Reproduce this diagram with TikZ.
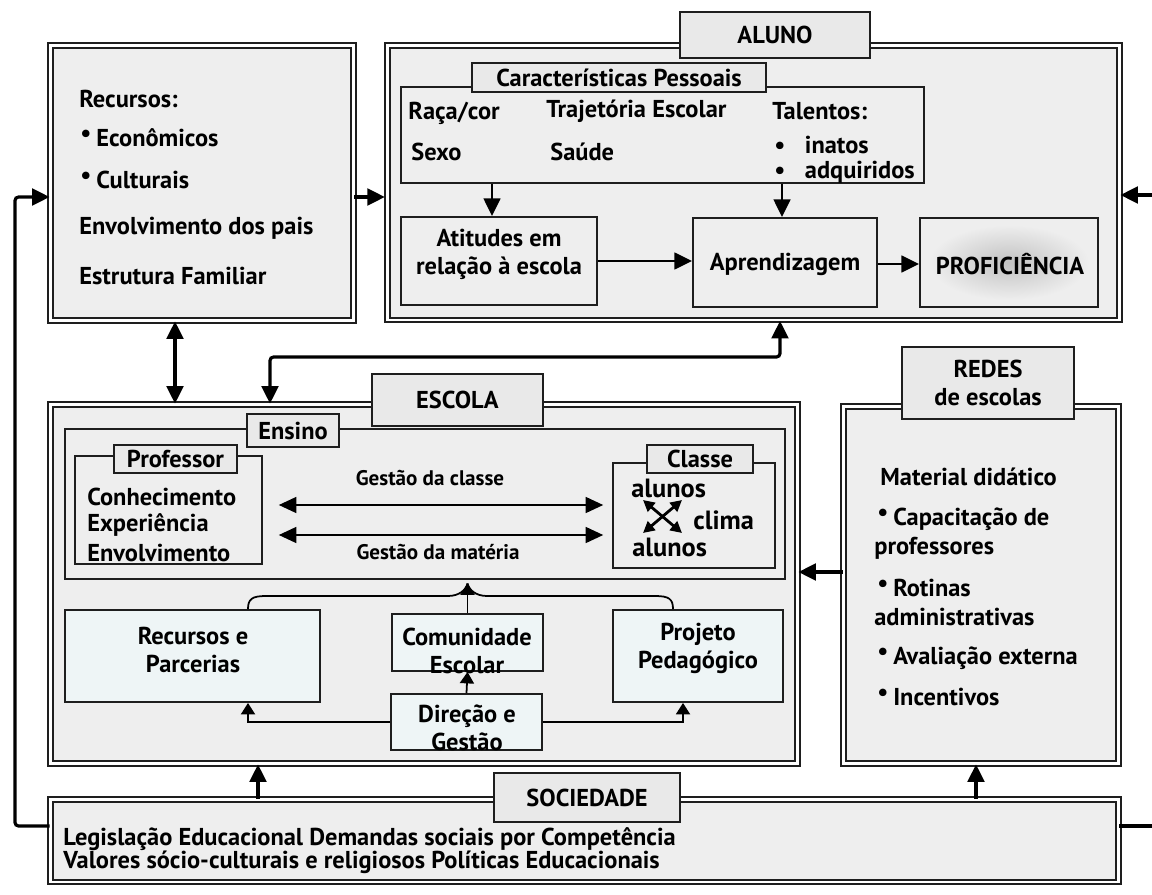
\documentclass[tikz,border=0pt]{standalone}
\usepackage{fontspec}
\setmainfont{PT Sans}
\usepackage{tikz}
\usetikzlibrary{arrows.meta,positioning,fit}
\usepackage{xcolor}
\definecolor{boxgray}{HTML}{EEEEEE}
\definecolor{tabgray}{HTML}{E9E9E9}
\definecolor{paleblue}{HTML}{EEF5F6}
\definecolor{inkline}{HTML}{1E1E1E}
\newcommand{\itembul}{\raisebox{0.4ex}{\textbullet}\hspace{0.2em}}
\newcommand{\bigfont}{\bfseries\fontsize{13.9}{16}\selectfont}

\begin{document}
\begin{tikzpicture}[x=0.02cm,y=-0.02cm,
  box/.style={draw=inkline, line width=1pt, double=white, double distance=1.6pt, fill=boxgray, inner sep=0pt},
  frame/.style={draw=inkline, line width=1.1pt, fill=boxgray, inner sep=0pt},
  bluebox/.style={frame, fill=paleblue},
  tab/.style={draw=inkline, line width=1.1pt, fill=tabgray, inner sep=0pt, align=center, font=\bigfont},
  txt/.style={anchor=west, inner sep=0pt, font=\bigfont},
  ctxt/.style={inner sep=0pt, align=center, font=\bigfont},
  small/.style={inner sep=0pt, font=\bfseries\fontsize{12}{14}\selectfont},
  arr/.style={line width=1.8pt, -{Triangle[length=10pt,width=9.5pt]}},
  darr/.style={line width=1.8pt, {Triangle[length=10pt,width=9.5pt]}-{Triangle[length=10pt,width=9.5pt]}},
  inarr/.style={line width=1.2pt, -{Triangle[length=10pt,width=9.5pt]}},
  gestarr/.style={line width=1.2pt, {Triangle[length=10pt,width=9pt]}-{Triangle[length=10pt,width=9pt]}},
  tinyarr/.style={line width=1pt, -{Triangle[length=6.5pt,width=8pt]}},
  crossarr/.style={line width=1.6pt, {Triangle[length=6.5pt,width=6.5pt]}-{Triangle[length=6.5pt,width=6.5pt]}}]
\useasboundingbox (0,0) rectangle (1152,895);
\clip (0,0) rectangle (1152,895);

% outer blocks
\node[box, fit={(50.5,45.5) (353.5,320.5)}] (familia) {};
\node[box, fit={(387.5,45.5) (1119.5,320)}] (aluno) {};
\node[box, fit={(50.5,404.5) (797.5,763.5)}] (escola) {};
\node[box, fit={(843.5,406.5) (1118.5,763.5)}] (redes) {};
\node[box, fit={(50.5,799.5) (1118.5,882)}] (sociedade) {};

% aluno
\node[frame, fit={(401,87) (924,183)}] (caract) {};
\node[frame, fit={(401,217) (597,305)}] (atitudes) {};
\node[frame, fit={(693,218) (877,307)}] (aprend) {};
\node[frame, fit={(920,218) (1098,307)}] (prof) {};
\begin{scope}
  \clip (prof.center) ellipse [x radius=1.6cm, y radius=0.75cm];
  \shade[inner color=black!24, outer color=boxgray] (prof.center) ellipse [x radius=1.6cm, y radius=0.75cm];
\end{scope}
\node[ctxt] (atitudestxt) at (499,254) {Atitudes em\\relação à escola};
\node[ctxt] (aprendtxt) at (785,264) {Aprendizagem};
\node[ctxt] (proftxt) at (1010,264) {PROFICIÊNCIA};
\node[tab, minimum width=3.8cm, minimum height=0.92cm] (alunotab) at (775,35) {ALUNO};
\node[tab, minimum width=5.88cm, minimum height=0.58cm] (caracttab) at (619,77.5) {Características Pessoais};
\node[txt] (raca) at (408,113) {Raça/cor};
\node[txt] (trajet) at (546,111) {Trajetória Escolar};
\node[txt] (sexo) at (411,152) {Sexo};
\node[txt] (saude) at (550,152) {Saúde};
\node[txt] (talentos) at (772,111) {Talentos:};
\node[txt] (inatos) at (774,145) {\textbullet\hspace{0.8em}inatos};
\node[txt] (adquir) at (774,172) {\textbullet\hspace{0.8em}adquiridos};

% familia
\node[txt] (recursos) at (79,99) {Recursos:};
\node[txt] (economicos) at (80,138) {\itembul Econômicos};
\node[txt] (culturais) at (80,180) {\itembul Culturais};
\node[txt] (envolv) at (79,228) {Envolvimento dos pais};
\node[txt] (estrut) at (79,276) {Estrutura Familiar};

% escola
\node[frame, fit={(65,429) (785,579)}] (ensino) {};
\node[frame, fit={(75,456) (262,564)}] (professor) {};
\node[frame, fit={(613,463) (775,568)}] (classe) {};
\node[bluebox, fit={(65,610) (320,702)}] (recpar) {};
\node[bluebox, fit={(392,614) (543,671)}] (comunidade) {};
\node[bluebox, fit={(391,694) (542,750)}] (direcao) {};
\node[bluebox, fit={(613,610) (783,702)}] (projeto) {};
\node[tab, minimum width=3.42cm, minimum height=1.04cm] (escolatab) at (457.5,400) {ESCOLA};
\node[tab, minimum width=1.84cm, minimum height=0.66cm] (ensinotab) at (293,430.5) {Ensino};
\node[tab, minimum width=2.46cm, minimum height=0.56cm] (professortab) at (175.5,459) {Professor};
\node[tab, minimum width=2.12cm, minimum height=0.56cm] (classetab) at (700,459) {Classe};
\node[txt] (conhec) at (87,497) {Conhecimento};
\node[txt] (experi) at (87,525) {Experiência};
\node[txt] (envolvprof) at (87,553) {Envolvimento};
\node[small] (gclasse) at (430,478) {Gestão da classe};
\node[small] (gmateria) at (438,552) {Gestão da matéria};
\node[txt, font=\bfseries\fontsize{15}{17}\selectfont] (alunos1) at (631,488) {alunos};
\node[txt, font=\bfseries\fontsize{15}{17}\selectfont] (clima) at (693,520) {clima};
\node[txt, font=\bfseries\fontsize{15}{17}\selectfont] (alunos2) at (632,547) {alunos};
\node[ctxt] (recpartxt) at (193,650) {Recursos e\\Parcerias};
\node[ctxt] (comunidadetxt) at (467,651) {Comunidade\\Escolar};
\node[ctxt] (direcaotxt) at (467,727.5) {Direção e\\Gestão};
\node[ctxt] (projetotxt) at (698,648) {Projeto\\Pedagógico};

% redes
\node[tab, minimum width=3.44cm, minimum height=1.44cm] (redestab) at (988,383) {REDES\\de escolas};
\node[txt] (material) at (880,477) {Material didático};
\node[txt] (capacit) at (877,519) {\itembul Capacitação de};
\node[txt] (professores) at (874,548) {professores};
\node[txt] (rotinas) at (877,588) {\itembul Rotinas};
\node[txt] (administ) at (874,617) {administrativas};
\node[txt] (avaliacao) at (877,658) {\itembul Avaliação externa};
\node[txt] (incentivos) at (877,697) {\itembul Incentivos};

% sociedade
\node[tab, minimum width=3.72cm, minimum height=0.98cm] (sociedadetab) at (587,797.5) {SOCIEDADE};
\node[txt] (legisl) at (63,839) {Legislação Educacional Demandas sociais por Competência};
\node[txt] (valores) at (63,862) {Valores sócio-culturais e religiosos Políticas Educacionais};

% connectors
\draw[arr, shorten >=1pt] (familia.east |- 0,197) -- (aluno.west |- 0,197);
\draw[arr, rounded corners=2pt] (sociedade.west |- 0,826) -| (15,197) -- (familia.west |- 0,197);
\draw[arr] (sociedade.east |- 0,826) -- (1156,826) -- (1156,195) -- (aluno.east |- 0,195);
\draw[darr] (familia.south -| 175,0) -- (escola.north -| 175,0);
\draw[darr, rounded corners=2pt] (aluno.south -| 780,0) |- (270,357) -- (escola.north -| 270,0);
\draw[arr] (redes.west |- 0,572) -- (escola.east |- 0,572);
\draw[arr] (sociedade.north -| 258,0) -- (escola.south -| 258,0);
\draw[arr] (sociedade.north -| 976,0) -- (redes.south -| 976,0);

\draw[inarr] (caract.south -| 492,0) -- (atitudes.north -| 492,0);
\draw[inarr] (caract.south -| 782,0) -- (aprend.north -| 782,0);
\draw[inarr] (atitudes.east |- 0,261) -- (aprend.west |- 0,261);
\draw[inarr] (aprend.east |- 0,264) -- (prof.west |- 0,264);

\draw[gestarr, shorten <=9pt, shorten >=5pt] (professor.east |- 0,505) -- (classe.west |- 0,505);
\draw[gestarr, shorten <=9pt, shorten >=5pt] (professor.east |- 0,535) -- (classe.west |- 0,535);
\draw[crossarr] (643,500) -- (682,533);
\draw[crossarr] (643,533) -- (682,500);

\coordinate (meet) at (ensino.south -| comunidade.north);
\draw[line width=1pt] (recpar.north -| 248,0) .. controls (248,599) and (252,596) .. (266,596) -- (448,596) .. controls (459,596) and (466,590) .. ([yshift=-2pt]meet);
\draw[line width=1pt] (projeto.north -| 673,0) .. controls (673,599) and (669,596) .. (655,596) -- (487,596) .. controls (476,596) and (469,590) .. ([yshift=-2pt]meet);
\draw[tinyarr] (comunidade.north) -- ([yshift=-2pt]meet);
\draw[tinyarr] (direcao.north) -- (comunidade.south);
\draw[tinyarr] (direcao.west) -| (recpar.south -| 248,0);
\draw[tinyarr] (direcao.east) -| (projeto.south -| 683,0);
\end{tikzpicture}
\end{document}
